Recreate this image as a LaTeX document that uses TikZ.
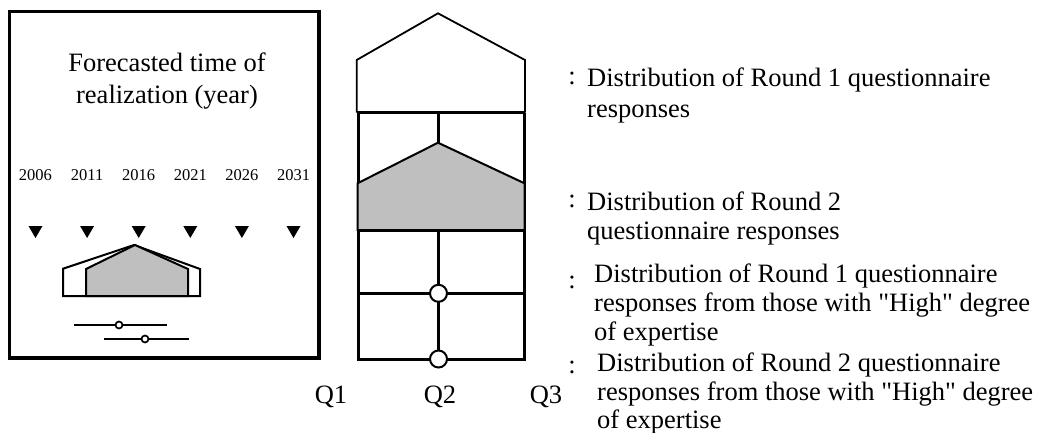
\documentclass[tikz,border=0pt]{standalone}
\usepackage{fontspec}
\setmainfont{Liberation Serif}
\newcommand{\sq}{\XeTeXglyph\XeTeXcharglyph"22\relax}
\begin{document}
\begin{tikzpicture}[x=1pt,y=-1pt,
  thinln/.style={line width=1.8pt, line join=miter},
  gridln/.style={line width=3pt},
  boxln/.style={line width=3.8pt},
  graybox/.style={fill=gray!50!white, draw=black, line width=2pt},
  txt/.style={inner sep=0pt, font=\fontsize{26.5}{31}\selectfont},
  yr/.style={inner sep=0pt, font=\fontsize{16.5}{18}\selectfont, anchor=base},
  tri/.style={fill=black},
  dot/.style={circle, draw=black, fill=white, line width=2pt, inner sep=0pt, minimum size=17pt},
  sdot/.style={circle, draw=black, fill=white, line width=1.7pt, inner sep=0pt, minimum size=7pt}]
\useasboundingbox (0,0) rectangle (1039,432);
% left box
\draw[boxln] (9.5,11.5) rectangle (318.7,358);
\node[txt, anchor=base] (t1) at (167,71.7) {Forecasted time of};
\node[txt, anchor=base] (t2) at (167,103.3) {realization (year)};
\foreach \y [count=\i from 0] in {2006,2011,2016,2021,2026,2031}{
  \node[yr] (y\i) at ({35.5+51.6*\i},180) {\y};
  \fill[tri] ({35.5+51.6*\i-7},226) -- ({35.5+51.6*\i+7},226) -- ({35.5+51.6*\i},238) -- cycle;
}
% small pentagons
\draw[line width=2pt, fill=white] (63,296) -- (63,268.7) -- (134,245) -- (200,269) -- (200,296) -- cycle;
\draw[graybox] (86,296) -- (86,269) -- (135,245) -- (188,269) -- (188,296) -- cycle;
% small bars
\coordinate (b1l) at (74,325); \coordinate (b1r) at (167,325);
\coordinate (b2l) at (104,339); \coordinate (b2r) at (189,339);
\draw[line width=1.6pt] (b1l) -- (b1r);
\draw[line width=1.6pt] (b2l) -- (b2r);
\node[sdot] (c1) at (119,325) {};
\node[sdot] (c2) at (145,339) {};
% right figure
\draw[thinln] (356.7,112.7) -- (356.7,60) -- (438,13.3) -- (525,60) -- (525,112.7);
\draw[gridln] (356.7,112.7) -- (525,112.7);
\draw[gridln] (358.3,112.7) -- (358.3,359) -- (524.3,359) -- (524.3,112.7);
\draw[gridln] (438.5,112.7) -- (438.5,143);
\draw[graybox] (357.5,230) -- (357.5,183.3) -- (438,142.7) -- (524.5,183.3) -- (524.5,230) -- cycle;
\draw[gridln] (358.3,230) -- (524.3,230);
\draw[gridln] (438.5,230) -- (438.5,359);
\draw[gridln] (358.3,293.3) -- (524.3,293.3);
\node[dot] (d1) at (438.5,293.3) {};
\node[dot] (d2) at (438.5,359) {};
% Q labels
\node[txt, anchor=base] (q1) at (331,403) {Q1};
\node[txt, anchor=base] (q2) at (440,403) {Q2};
\node[txt, anchor=base] (q3) at (546,403) {Q3};
% legend
\node[txt] (k1) at (572,78.5) {:};
\node[txt] (k2) at (572,201) {:};
\node[txt] (k3) at (572,282) {:};
\node[txt] (k4) at (572,367) {:};
\node[txt, anchor=base west, align=left] (l1) at (587,117) {Distribution of Round 1 questionnaire\\responses};
\node[txt, anchor=base west, align=left, font=\fontsize{26.5}{29.5}\selectfont] (l2) at (587,239.5) {Distribution of Round 2\\questionnaire responses};
\node[txt, anchor=base west, align=left, font=\fontsize{26.5}{28.8}\selectfont] (l3) at (594,340.5) {Distribution of Round 1 questionnaire\\responses from those with \sq High\sq{} degree\\of expertise};
\node[txt, anchor=base west, align=left, font=\fontsize{26.5}{28.3}\selectfont] (l4) at (597,428.3) {Distribution of Round 2 questionnaire\\responses from those with \sq High\sq{} degree\\of expertise};
\end{tikzpicture}
\end{document}
